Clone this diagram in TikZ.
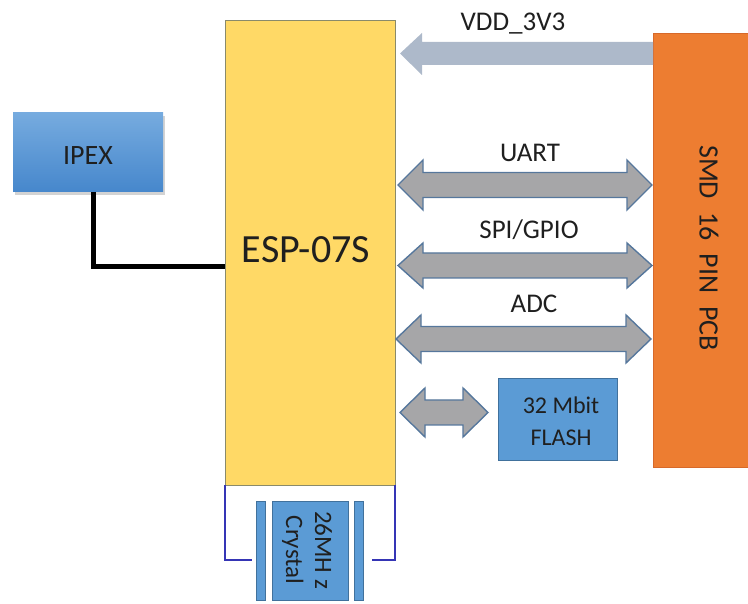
\documentclass[tikz,border=0pt]{standalone}
\usepackage{fontspec}
\setmainfont{Carlito}
\usetikzlibrary{shadows}
\definecolor{espyellow}{HTML}{FFD966}
\definecolor{espline}{HTML}{8A8A6A}
\definecolor{pcborange}{HTML}{ED7D31}
\definecolor{pcbline}{HTML}{D7692A}
\definecolor{blueA}{HTML}{5B9BD5}
\definecolor{blueline}{HTML}{41719C}
\definecolor{ipextop}{HTML}{76ABDF}
\definecolor{ipexbot}{HTML}{4687CC}
\definecolor{busfill}{HTML}{A6A6A8}
\definecolor{busline}{HTML}{56779C}
\definecolor{vddfill}{HTML}{ADB9CA}
\definecolor{bracket}{HTML}{3535B5}
\definecolor{txt}{HTML}{1F1F1F}
\newcommand\DblArrow[4]{%
  \path[bus] (#1,#3) -- (#1+25,#3-#4) -- (#1+25,#3-12.5) -- (#2-25,#3-12.5)
    -- (#2-25,#3-#4) -- (#2,#3) -- (#2-25,#3+#4) -- (#2-25,#3+12.5)
    -- (#1+25,#3+12.5) -- (#1+25,#3+#4) -- cycle;}
\begin{document}
\begin{tikzpicture}[x=1pt,y=-1pt,
  box/.style={inner sep=0pt, outer sep=0pt},
  lbl/.style={font=\fontsize{27}{32}\selectfont, text=txt, inner sep=0pt},
  bus/.style={fill=busfill, draw=busline, line width=1.4pt, line join=miter},
]
\useasboundingbox (0,0) rectangle (748,604);
% main module
\node[box, draw=espline, line width=0.8pt, fill=espyellow, minimum width=170pt, minimum height=465pt] (esp) at (310,252.5) {};
\node[lbl, font=\fontsize{40}{48}\selectfont, anchor=base] (esptxt) at (306,263) {ESP-07S};
% PCB
\node[box, draw=pcbline, line width=0.6pt, fill=pcborange, minimum width=95pt, minimum height=434pt] (pcb) at (700.5,250) {};
\node[lbl, rotate=-90, font=\fontsize{28}{33}\selectfont] (pcbtxt) at (709,248) {SMD\hspace{13pt}16\hspace{13pt}PIN\hspace{13pt}PCB};
% IPEX
\node[box, top color=ipextop, bottom color=ipexbot, draw=none, minimum width=150pt, minimum height=79pt,
  drop shadow={shadow xshift=2pt, shadow yshift=-3pt, opacity=0.35}] (ipex) at (88,152.5) {};
\node[lbl, font=\fontsize{28}{33}\selectfont, anchor=base] (ipextxt) at (88,165) {IPEX};
\coordinate (ipexout) at (93,192);
\coordinate (espin) at (225,267);
\draw[line width=5pt, black] (ipexout) |- (espin);
% VDD arrow
\path[fill=vddfill] (pcb.west |- 0,42) -- (422,42) -- (422,33) -- (400,53.5) -- (422,75) -- (422,65) -- (pcb.west |- 0,65) -- cycle;
\node[lbl, anchor=base] (vdd) at (513,31) {VDD\_3V3};
% buses
\DblArrow{398}{652}{185}{25}
\node[lbl, anchor=base] (uart) at (530,162) {UART};
\DblArrow{398}{652}{265.5}{22.5}
\node[lbl, anchor=base] (spi) at (529,239) {SPI/GPIO};
\DblArrow{396}{651}{339}{24}
\node[lbl, anchor=base] (adc) at (534,313) {ADC};
\DblArrow{400}{488}{412.5}{24.5}
% flash
\node[box, fill=blueA, draw=blueline, line width=0.6pt, minimum width=119pt, minimum height=82pt] (flash) at (557.5,419) {};
\node[lbl, font=\fontsize{24}{32}\selectfont, align=center] (flashtxt) at (561,421) {32 Mbit\\FLASH};
% crystal bracket
\coordinate (brL) at (252,560);
\coordinate (brR) at (372,560);
\draw[bracket, line width=1.8pt] (esp.south west) |- (brL);
\draw[bracket, line width=1.8pt] (esp.south east) |- (brR);
% crystal
\node[box, fill=blueA, draw=blueline, line width=0.6pt, minimum width=9pt, minimum height=99pt] (barL) at (260.5,550.5) {};
\node[box, fill=blueA, draw=blueline, line width=0.6pt, minimum width=9pt, minimum height=99pt] (barR) at (358.5,550.5) {};
\node[box, fill=blueA, draw=blueline, line width=0.6pt, minimum width=76pt, minimum height=99pt] (xtal) at (310,550.5) {};
\node[lbl, rotate=-90, font=\fontsize{25}{29}\selectfont, align=center] (xtaltxt) at (307,550) {26MH z\\Crystal};
\end{tikzpicture}
\end{document}
